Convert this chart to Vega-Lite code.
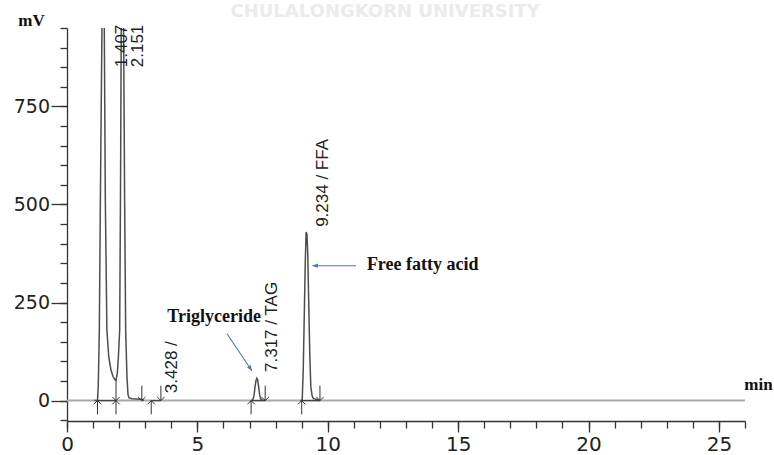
{
  "$schema": "https://vega.github.io/schema/vega-lite/v6.json",
  "width": 678,
  "height": 393,
  "padding": {"left": 67, "top": 28, "right": 29, "bottom": 34},
  "autosize": {"type": "none"},
  "background": "white",
  "config": {"view": {"stroke": null}, "font": "Liberation Sans"},
  "datasets": {
    "trace": [
      {"seg": "a", "t": 1.05, "mV": 0}, {"seg": "a", "t": 1.17, "mV": 1}, {"seg": "a", "t": 1.2, "mV": 40},
      {"seg": "a", "t": 1.24, "mV": 180}, {"seg": "a", "t": 1.28, "mV": 510}, {"seg": "a", "t": 1.34, "mV": 950},
      {"seg": "a", "t": 1.38, "mV": 1150}, {"seg": "a", "t": 1.43, "mV": 950}, {"seg": "a", "t": 1.47, "mV": 510},
      {"seg": "a", "t": 1.53, "mV": 180}, {"seg": "a", "t": 1.6, "mV": 112}, {"seg": "a", "t": 1.68, "mV": 80},
      {"seg": "a", "t": 1.76, "mV": 62}, {"seg": "a", "t": 1.83, "mV": 54}, {"seg": "a", "t": 1.88, "mV": 52},
      {"seg": "a", "t": 1.93, "mV": 70}, {"seg": "a", "t": 1.97, "mV": 110}, {"seg": "a", "t": 2.02, "mV": 180},
      {"seg": "a", "t": 2.05, "mV": 510}, {"seg": "a", "t": 2.08, "mV": 950}, {"seg": "a", "t": 2.12, "mV": 1150},
      {"seg": "a", "t": 2.17, "mV": 950}, {"seg": "a", "t": 2.21, "mV": 510}, {"seg": "a", "t": 2.25, "mV": 180},
      {"seg": "a", "t": 2.3, "mV": 60}, {"seg": "a", "t": 2.34, "mV": 15}, {"seg": "a", "t": 2.38, "mV": 7},
      {"seg": "a", "t": 2.5, "mV": 5}, {"seg": "a", "t": 2.7, "mV": 4}, {"seg": "a", "t": 2.87, "mV": 3},
      {"seg": "a", "t": 2.95, "mV": 0},
      {"seg": "b", "t": 7.05, "mV": 0}, {"seg": "b", "t": 7.12, "mV": 2}, {"seg": "b", "t": 7.17, "mV": 12},
      {"seg": "b", "t": 7.21, "mV": 35}, {"seg": "b", "t": 7.25, "mV": 52}, {"seg": "b", "t": 7.28, "mV": 57},
      {"seg": "b", "t": 7.31, "mV": 53}, {"seg": "b", "t": 7.35, "mV": 35}, {"seg": "b", "t": 7.39, "mV": 14},
      {"seg": "b", "t": 7.43, "mV": 4}, {"seg": "b", "t": 7.5, "mV": 1}, {"seg": "b", "t": 7.6, "mV": 0},
      {"seg": "c", "t": 8.95, "mV": 0}, {"seg": "c", "t": 9.02, "mV": 2}, {"seg": "c", "t": 9.06, "mV": 80},
      {"seg": "c", "t": 9.1, "mV": 220}, {"seg": "c", "t": 9.14, "mV": 360}, {"seg": "c", "t": 9.17, "mV": 430},
      {"seg": "c", "t": 9.2, "mV": 425}, {"seg": "c", "t": 9.23, "mV": 380}, {"seg": "c", "t": 9.27, "mV": 250},
      {"seg": "c", "t": 9.31, "mV": 120}, {"seg": "c", "t": 9.35, "mV": 35}, {"seg": "c", "t": 9.4, "mV": 12},
      {"seg": "c", "t": 9.45, "mV": 5}, {"seg": "c", "t": 9.6, "mV": 3}, {"seg": "c", "t": 9.7, "mV": 0}
    ],
    "baseline": [{"t0": 0, "t1": 26, "v": 0}],
    "integ": [
      {"t0": 1.17, "t1": 1.88, "v": 0}, {"t0": 3.23, "t1": 3.6, "v": 0},
      {"t0": 7.06, "t1": 7.6, "v": 0}, {"t0": 9.0, "t1": 9.7, "v": 0}
    ],
    "marks": [
      {"t": 1.17, "y0": -35, "y1": 0, "dir": "up"},
      {"t": 1.88, "y0": -35, "y1": 0, "dir": "up"},
      {"t": 3.23, "y0": -35, "y1": 0, "dir": "up"},
      {"t": 7.06, "y0": -35, "y1": 0, "dir": "up"},
      {"t": 9.0, "y0": -35, "y1": 0, "dir": "up"},
      {"t": 1.88, "y0": 52, "y1": 0, "dir": "down"},
      {"t": 2.87, "y0": 38, "y1": 0, "dir": "down"},
      {"t": 3.6, "y0": 38, "y1": 0, "dir": "down"},
      {"t": 7.6, "y0": 38, "y1": 0, "dir": "down"},
      {"t": 9.7, "y0": 38, "y1": 0, "dir": "down"}
    ],
    "labels": [
      {"t": 2.1, "mV": 850, "text": "1.407"},
      {"t": 2.71, "mV": 850, "text": "2.151"},
      {"t": 4.02, "mV": 19, "text": "3.428 /"},
      {"t": 7.85, "mV": 73, "text": "7.317 / TAG"},
      {"t": 9.82, "mV": 443, "text": "9.234 / FFA"}
    ],
    "notes": [
      {"t": 5.64, "mV": 214, "text": "Triglyceride"},
      {"t": 13.64, "mV": 347, "text": "Free fatty acid"}
    ],
    "pointers": [
      {"name": "tag", "t0": 6.13, "v0": 171, "t1": 7.09, "v1": 76},
      {"name": "ffa", "t0": 11.08, "v0": 344, "t1": 9.41, "v1": 344}
    ],
    "watermark": [{"t": 12.2, "mV": 990, "text": "CHULALONGKORN UNIVERSITY"}]
  },
  "layer": [
    {
      "data": {"name": "watermark"},
      "mark": {"type": "text", "align": "center", "baseline": "middle",
               "font": "DejaVu Sans", "fontWeight": "bold", "fontSize": 18, "color": "#ebebeb"},
      "encoding": {
        "x": {"field": "t", "type": "quantitative", "axis": null},
        "y": {"field": "mV", "type": "quantitative", "axis": null},
        "text": {"field": "text"}
      }
    },
    {
      "data": {"name": "baseline"},
      "mark": {"type": "rule", "color": "#a9a9a9", "strokeWidth": 2},
      "encoding": {
        "x": {"field": "t0", "type": "quantitative",
              "scale": {"domain": [0, 26], "nice": false, "zero": false},
              "axis": {"orient": "bottom", "values": [0,1,2,3,4,5,6,7,8,9,10,11,12,13,14,15,16,17,18,19,20,21,22,23,24,25,26],
                       "labels": false, "tickSize": 7, "title": null, "grid": false,
                       "domainColor": "#333", "tickColor": "#333", "domainWidth": 1.3, "tickWidth": 1.3}},
        "x2": {"field": "t1"},
        "y": {"field": "v", "type": "quantitative",
              "scale": {"domain": [-52, 950], "nice": false, "zero": false},
              "axis": {"orient": "left", "values": [-50,0,50,100,150,200,250,300,350,400,450,500,550,600,650,700,750,800,850,900,950],
                       "labels": false, "tickSize": 7, "title": null, "grid": false,
                       "domainColor": "#333", "tickColor": "#333", "domainWidth": 1.3, "tickWidth": 1.3}}
      }
    },
    {
      "data": {"name": "trace"},
      "mark": {"type": "line", "color": "#4d4d4d", "strokeWidth": 1.5, "clip": true},
      "encoding": {
        "x": {"field": "t", "type": "quantitative",
              "scale": {"domain": [0, 26], "nice": false, "zero": false},
              "axis": {"orient": "bottom", "values": [0, 5, 10, 15, 20, 25], "domain": false, "grid": false,
                       "tickSize": 11, "tickColor": "#333", "tickWidth": 1.3,
                       "labelFont": "DejaVu Sans", "labelFontSize": 20, "labelColor": "#222", "labelPadding": 2,
                       "labelFlush": false,
                       "title": "min", "titleAngle": 0, "titleX": 691, "titleY": -32, "titleAlign": "center",
                       "titleBaseline": "alphabetic", "titleFont": "Liberation Serif", "titleFontWeight": "bold",
                       "titleFontSize": 17, "titleColor": "#111"}},
        "y": {"field": "mV", "type": "quantitative",
              "scale": {"domain": [-52, 950], "nice": false, "zero": false},
              "axis": {"orient": "left", "values": [0, 250, 500, 750], "domain": false, "grid": false,
                       "tickSize": 16, "tickColor": "#333", "tickWidth": 1.3,
                       "labelFont": "DejaVu Sans", "labelFontSize": 19, "labelColor": "#222", "labelPadding": 1.5,
                       "title": "mV", "titleAngle": 0, "titleX": -36, "titleY": -3, "titleAlign": "center",
                       "titleBaseline": "alphabetic", "titleFont": "Liberation Serif", "titleFontWeight": "bold",
                       "titleFontSize": 17, "titleColor": "#111"}},
        "detail": {"field": "seg", "type": "nominal"}
      }
    },
    {
      "data": {"name": "integ"},
      "mark": {"type": "rule", "color": "#444", "strokeWidth": 1.2},
      "encoding": {
        "x": {"field": "t0", "type": "quantitative", "axis": null},
        "x2": {"field": "t1"},
        "y": {"field": "v", "type": "quantitative", "axis": null}
      }
    },
    {
      "data": {"name": "marks"},
      "mark": {"type": "rule", "color": "#333", "strokeWidth": 1},
      "encoding": {
        "x": {"field": "t", "type": "quantitative", "axis": null},
        "y": {"field": "y0", "type": "quantitative", "axis": null},
        "y2": {"field": "y1"}
      }
    },
    {
      "data": {"name": "marks"},
      "mark": {"type": "point", "filled": false, "color": "#333", "strokeWidth": 1, "size": 55, "opacity": 1},
      "encoding": {
        "x": {"field": "t", "type": "quantitative", "axis": null},
        "y": {"field": "y1", "type": "quantitative", "axis": null},
        "shape": {"field": "dir", "type": "nominal",
                  "scale": {"domain": ["up", "down"], "range": ["M-1,1L0,0L1,1", "M-1,-1L0,0L1,-1"]},
                  "legend": null}
      }
    },
    {
      "data": {"name": "labels"},
      "mark": {"type": "text", "angle": 270, "align": "left", "baseline": "middle",
               "font": "Liberation Sans", "fontSize": 17, "color": "#222"},
      "encoding": {
        "x": {"field": "t", "type": "quantitative", "axis": null},
        "y": {"field": "mV", "type": "quantitative", "axis": null},
        "text": {"field": "text"}
      }
    },
    {
      "data": {"name": "notes"},
      "mark": {"type": "text", "align": "center", "baseline": "middle",
               "font": "Liberation Serif", "fontWeight": "bold", "fontSize": 18, "color": "#111"},
      "encoding": {
        "x": {"field": "t", "type": "quantitative", "axis": null},
        "y": {"field": "mV", "type": "quantitative", "axis": null},
        "text": {"field": "text"}
      }
    },
    {
      "data": {"name": "pointers"},
      "mark": {"type": "rule", "color": "#4f74b3", "strokeWidth": 1.1},
      "encoding": {
        "x": {"field": "t0", "type": "quantitative", "axis": null},
        "y": {"field": "v0", "type": "quantitative", "axis": null},
        "x2": {"field": "t1"},
        "y2": {"field": "v1"}
      }
    },
    {
      "data": {"name": "pointers"},
      "transform": [{"filter": "datum.name === 'ffa'"}],
      "mark": {"type": "point", "filled": true, "color": "#4f74b3", "size": 30, "opacity": 1,
               "shape": "M0,0L2,-0.8L2,0.8Z"},
      "encoding": {
        "x": {"field": "t1", "type": "quantitative", "axis": null},
        "y": {"field": "v1", "type": "quantitative", "axis": null}
      }
    },
    {
      "data": {"name": "pointers"},
      "transform": [{"filter": "datum.name === 'tag'"}],
      "mark": {"type": "point", "filled": true, "color": "#4f74b3", "size": 30, "opacity": 1,
               "shape": "M0,0L-0.445,-2.105L-1.775,-1.215Z"},
      "encoding": {
        "x": {"field": "t1", "type": "quantitative", "axis": null},
        "y": {"field": "v1", "type": "quantitative", "axis": null}
      }
    }
  ],
  "resolve": {"axis": {"x": "independent", "y": "independent"}}
}
